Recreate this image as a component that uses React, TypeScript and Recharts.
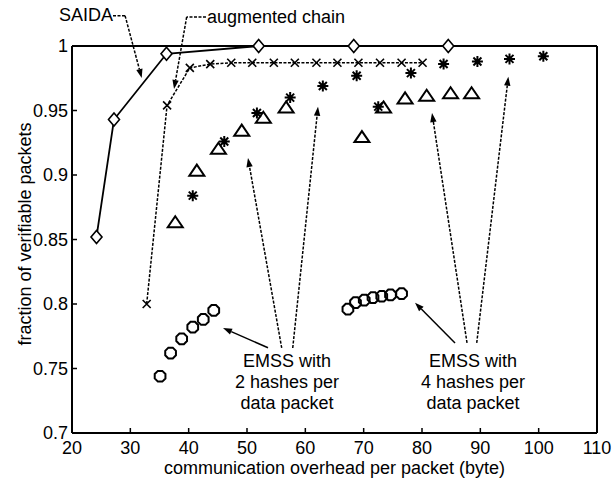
import React from 'react';
import { ScatterChart, Scatter, XAxis, YAxis, ReferenceLine, ReferenceDot } from 'recharts';

const xTicks = [20, 30, 40, 50, 60, 70, 80, 90, 100, 110];
const yTicks = [0.7, 0.75, 0.8, 0.85, 0.9, 0.95, 1];

// SAIDA
const saidaX = [24.2, 27.2, 36.2, 52, 68.3, 84.5];
const saidaY = [0.852, 0.943, 0.994, 1.0, 1.0, 1.0];

// augmented chain
const chainX = [32.8, 36.3, 40.2, 43.7, 47.3, 50.9, 54.6, 58.2, 61.9, 65.5, 69.1, 72.8, 76.5, 80.1];
const chainY = [0.8, 0.954, 0.983, 0.986, 0.987, 0.987, 0.987, 0.987, 0.987, 0.987, 0.987, 0.987, 0.987, 0.987];

// EMSS, 2 hashes per data packet
const emss2StarX = [40.7, 46.1, 51.7, 57.4, 63.0, 68.8];
const emss2StarY = [0.884, 0.926, 0.948, 0.96, 0.969, 0.977];
const emss2TriX = [37.7, 41.4, 45.1, 49.1, 52.8, 56.7];
const emss2TriY = [0.863, 0.903, 0.92, 0.934, 0.944, 0.952];
const emss2HexX = [35.1, 36.9, 38.8, 40.7, 42.5, 44.3];
const emss2HexY = [0.744, 0.762, 0.773, 0.782, 0.788, 0.795];

// EMSS, 4 hashes per data packet
const emss4StarX = [72.5, 78.1, 83.7, 89.5, 95.0, 100.8];
const emss4StarY = [0.953, 0.979, 0.986, 0.988, 0.99, 0.992];
const emss4TriX = [69.7, 73.4, 77.1, 80.8, 84.9, 88.5];
const emss4TriY = [0.929, 0.952, 0.959, 0.961, 0.963, 0.963];
const emss4HexX = [67.3, 68.6, 70.1, 71.6, 73.1, 74.6, 76.5];
const emss4HexY = [0.796, 0.801, 0.803, 0.805, 0.806, 0.807, 0.808];

// callouts (data coordinates)
const saidaCallout = [[27.03, 1.0235], [29.1, 1.0235], [31.95, 0.9752]];
const chainCallout = [[42.97, 1.0225], [39.66, 1.0225], [37.49, 0.9667]];
const emss2Arrows = [
  { from: [53.6, 0.7661], to: [45.89, 0.7814], dashed: false },
  { from: [55.95, 0.7659], to: [50.17, 0.9132], dashed: true },
  { from: [57.84, 0.7659], to: [62.17, 0.9529], dashed: true },
];
const emss4Arrows = [
  { from: [85.66, 0.7698], to: [78.8, 0.801], dashed: false },
  { from: [87.72, 0.7698], to: [81.72, 0.948], dashed: true },
  { from: [89.38, 0.7698], to: [94.8, 0.9762], dashed: true },
];
const emss2Text = ['EMSS with', '2 hashes per', 'data packet'];
const emss4Text = ['EMSS with', '4 hashes per', 'data packet'];

const toPoints = (xs: number[], ys: number[]) => xs.map((x, i) => ({ x, y: ys[i] }));

const FONT = '"Liberation Sans", Arial, Helvetica, sans-serif';

const Marker = ({ cx, cy, kind }: { cx: number; cy: number; kind: string }) => {
  const s = { stroke: '#000', strokeWidth: 1.6, fill: 'none' };
  if (kind === 'diamond') {
    return <polygon points={`${cx},${cy - 6.5} ${cx + 5.5},${cy} ${cx},${cy + 6.5} ${cx - 5.5},${cy}`} {...s} fill="#fff" />;
  }
  if (kind === 'cross') {
    const d = 4;
    return <path d={`M${cx - d},${cy - d}L${cx + d},${cy + d}M${cx - d},${cy + d}L${cx + d},${cy - d}`} {...s} />;
  }
  if (kind === 'star') {
    const d = 5.5, e = 4;
    return (
      <path
        d={`M${cx - d},${cy}L${cx + d},${cy}M${cx},${cy - d}L${cx},${cy + d}M${cx - e},${cy - e}L${cx + e},${cy + e}M${cx - e},${cy + e}L${cx + e},${cy - e}`}
        {...s}
        strokeWidth={2}
      />
    );
  }
  if (kind === 'tri') {
    return <polygon points={`${cx},${cy - 6.5} ${cx + 7.5},${cy + 4.5} ${cx - 7.5},${cy + 4.5}`} {...s} strokeWidth={2} />;
  }
  // hexagon-ish circle
  const r = 5.8;
  const pts = [0, 1, 2, 3, 4, 5, 6, 7]
    .map((k) => {
      const a = (Math.PI / 4) * k + Math.PI / 8;
      return `${cx + r * Math.cos(a)},${cy + r * Math.sin(a)}`;
    })
    .join(' ');
  return <polygon points={pts} {...s} strokeWidth={2} />;
};

const arrowShape = (dashed: boolean, head: boolean) => (p: any) => {
  const { x1, y1, x2, y2 } = p;
  const ang = Math.atan2(y2 - y1, x2 - x1);
  const L = 9;
  const W = 3.2;
  const bx = x2 - L * Math.cos(ang);
  const by = y2 - L * Math.sin(ang);
  const pts = `${x2},${y2} ${bx + W * Math.sin(ang)},${by - W * Math.cos(ang)} ${bx - W * Math.sin(ang)},${by + W * Math.cos(ang)}`;
  return (
    <g>
      <line
        x1={x1}
        y1={y1}
        x2={head ? bx : x2}
        y2={head ? by : y2}
        stroke="#000"
        strokeWidth={1.5}
        strokeDasharray={dashed ? '3 1.5' : undefined}
      />
      {head && <polygon points={pts} fill="#000" />}
    </g>
  );
};

const textShape = (lines: string[], anchor: 'start' | 'middle' | 'end') => (p: any) => (
  <text x={p.cx} y={p.cy} textAnchor={anchor} fontSize={18} fontFamily={FONT} fill="#000">
    {lines.map((l, i) => (
      <tspan key={i} x={p.cx} dy={i === 0 ? 0 : 21}>
        {l}
      </tspan>
    ))}
  </text>
);

const Callout = (pts: number[][], key: string) =>
  pts.slice(1).map((pt, i) => (
    <ReferenceLine
      key={`${key}-${i}`}
      segment={[
        { x: pts[i][0], y: pts[i][1] },
        { x: pt[0], y: pt[1] },
      ]}
      ifOverflow="visible"
      shape={arrowShape(true, i === pts.length - 2)}
    />
  ));

const Arrows = (list: { from: number[]; to: number[]; dashed: boolean }[], key: string) =>
  list.map((a, i) => (
    <ReferenceLine
      key={`${key}-${i}`}
      segment={[
        { x: a.from[0], y: a.from[1] },
        { x: a.to[0], y: a.to[1] },
      ]}
      ifOverflow="visible"
      shape={arrowShape(a.dashed, true)}
    />
  ));

const YTitle = () => (
  <text
    x={25}
    y={234}
    transform="rotate(-90 25 234)"
    textAnchor="middle"
    dominantBaseline="central"
    fontSize={18}
    fontFamily={FONT}
    fill="#000"
  >
    fraction of verifiable packets
  </text>
);

const tickStyle = { fill: '#000', fontSize: 18, fontFamily: FONT };
const lineStyle = { stroke: '#000', strokeWidth: 2 };

export default function App() {
  return (
    <div style={{ position: 'absolute', left: 0, top: 0, background: '#fff' }}>
      <ScatterChart width={613} height={482} margin={{ top: 36, right: 0, bottom: 0, left: 0 }}>
        <XAxis
          dataKey="x"
          type="number"
          domain={[20, 110]}
          ticks={xTicks}
          interval={0}
          height={49}
          tickSize={-5}
          tickMargin={13}
          tick={tickStyle}
          axisLine={lineStyle}
          tickLine={{ stroke: '#000', strokeWidth: 1.5 }}
          label={{ value: 'communication overhead per packet (byte)', position: 'insideBottom', offset: 8, style: { fill: '#000', fontSize: 18, fontFamily: FONT } }}
        />
        <XAxis
          xAxisId="top"
          orientation="top"
          type="number"
          domain={[20, 110]}
          ticks={xTicks}
          interval={0}
          height={10}
          tickSize={-5}
          tick={false}
          axisLine={lineStyle}
          tickLine={{ stroke: '#000', strokeWidth: 1.5 }}
        />
        <YAxis
          dataKey="y"
          type="number"
          domain={[0.7, 1]}
          ticks={yTicks}
          interval={0}
          width={72}
          tickSize={-5}
          tickMargin={9}
          tick={tickStyle}
          axisLine={lineStyle}
          tickLine={{ stroke: '#000', strokeWidth: 1.5 }}
          label={<YTitle />}
        />
        <YAxis
          yAxisId="right"
          orientation="right"
          type="number"
          domain={[0.7, 1]}
          ticks={yTicks}
          interval={0}
          width={16}
          tickSize={-5}
          tick={false}
          axisLine={lineStyle}
          tickLine={{ stroke: '#000', strokeWidth: 1.5 }}
        />

        <Scatter
          name="augmented chain"
          data={toPoints(chainX, chainY)}
          line={{ stroke: '#000', strokeWidth: 1.5, strokeDasharray: '3 1.5' }}
          lineType="joint"
          shape={(p: any) => <Marker cx={p.cx} cy={p.cy} kind="cross" />}
          isAnimationActive={false}
        />
        <Scatter
          name="SAIDA"
          data={toPoints(saidaX, saidaY)}
          line={{ stroke: '#000', strokeWidth: 1.8 }}
          lineType="joint"
          shape={(p: any) => <Marker cx={p.cx} cy={p.cy} kind="diamond" />}
          isAnimationActive={false}
        />
        <Scatter name="EMSS 2 star" data={toPoints(emss2StarX, emss2StarY)} shape={(p: any) => <Marker cx={p.cx} cy={p.cy} kind="star" />} isAnimationActive={false} />
        <Scatter name="EMSS 4 star" data={toPoints(emss4StarX, emss4StarY)} shape={(p: any) => <Marker cx={p.cx} cy={p.cy} kind="star" />} isAnimationActive={false} />
        <Scatter name="EMSS 2 tri" data={toPoints(emss2TriX, emss2TriY)} shape={(p: any) => <Marker cx={p.cx} cy={p.cy} kind="tri" />} isAnimationActive={false} />
        <Scatter name="EMSS 4 tri" data={toPoints(emss4TriX, emss4TriY)} shape={(p: any) => <Marker cx={p.cx} cy={p.cy} kind="tri" />} isAnimationActive={false} />
        <Scatter name="EMSS 2 hex" data={toPoints(emss2HexX, emss2HexY)} shape={(p: any) => <Marker cx={p.cx} cy={p.cy} kind="hex" />} isAnimationActive={false} />
        <Scatter name="EMSS 4 hex" data={toPoints(emss4HexX, emss4HexY)} shape={(p: any) => <Marker cx={p.cx} cy={p.cy} kind="hex" />} isAnimationActive={false} />

        {Callout(saidaCallout, 'saida')}
        {Callout(chainCallout, 'chain')}
        {Arrows(emss2Arrows, 'e2')}
        {Arrows(emss4Arrows, 'e4')}

        <ReferenceDot x={27.03} y={1.019} r={0} ifOverflow="visible" shape={textShape(['SAIDA'], 'end')} />
        <ReferenceDot x={43.14} y={1.0178} r={0} ifOverflow="visible" shape={textShape(['augmented chain'], 'start')} />
        <ReferenceDot x={56.86} y={0.7508} r={0} ifOverflow="visible" shape={textShape(emss2Text, 'middle')} />
        <ReferenceDot x={88.75} y={0.7508} r={0} ifOverflow="visible" shape={textShape(emss4Text, 'middle')} />
      </ScatterChart>
    </div>
  );
}
